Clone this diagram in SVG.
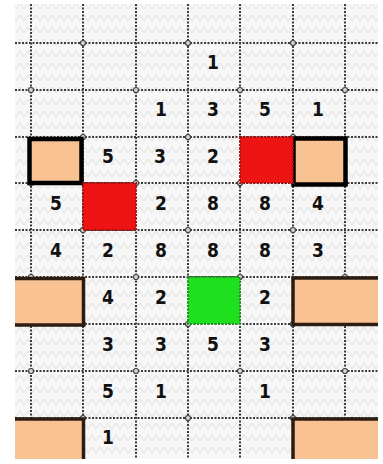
<svg xmlns="http://www.w3.org/2000/svg" width="383" height="464" viewBox="0 0 383 464">
<defs>
<pattern id="tex" width="16" height="12" patternUnits="userSpaceOnUse">
<rect width="16" height="12" fill="#f7f7f7"/>
<path d="M0 9 L4 3 L8 9 L12 3 L16 9" fill="none" stroke="#e2e2e2" stroke-width="1"/>
</pattern>
<clipPath id="area"><rect x="15" y="4" width="363" height="455"/></clipPath>
</defs>
<style>
.g{stroke:#3c3c3c;stroke-width:2;stroke-dasharray:2 1.5;fill:none}
.ring{fill:#d8d8d8;stroke:#444;stroke-width:1.2}
.box{fill:#f8c293}
.bt{fill:none;stroke:#000;stroke-width:4.5}
.bb{fill:none;stroke:#2b1d12;stroke-width:3.5}
.red{fill:#ee1414}
.redb{fill:none;stroke:#a01010;stroke-width:2;stroke-dasharray:2 1.5}
.grn{fill:#1fe01f}
.grnb{fill:none;stroke:#2a8a2a;stroke-width:2;stroke-dasharray:2 1.5}
text{font-family:"Liberation Sans Narrow","DejaVu Sans Condensed","DejaVu Sans",sans-serif;font-stretch:condensed;font-weight:bold;font-size:19px;fill:#111;text-anchor:middle}
</style>
<rect width="383" height="464" fill="#fff"/>
<g clip-path="url(#area)">
<rect x="15" y="4" width="363" height="455" fill="url(#tex)"/>
<g id="grid">
<path class="g" d="M31 4V459M83 4V459M136 4V459M188 4V459M240 4V459M293 4V459M345 4V459"/>
<path class="g" d="M15 43H378M15 90H378M15 137H378M15 183H378M15 230H378M15 277H378M15 324H378M15 371H378M15 418H378"/>
<g>
<circle class="ring" cx="83" cy="43" r="2.5"/><circle class="ring" cx="188" cy="43" r="2.5"/><circle class="ring" cx="293" cy="43" r="2.5"/>
<circle class="ring" cx="31" cy="90" r="2.5"/><circle class="ring" cx="136" cy="90" r="2.5"/><circle class="ring" cx="240" cy="90" r="2.5"/><circle class="ring" cx="345" cy="90" r="2.5"/>
<circle class="ring" cx="83" cy="137" r="2.5"/><circle class="ring" cx="188" cy="137" r="2.5"/><circle class="ring" cx="293" cy="137" r="2.5"/>
<circle class="ring" cx="31" cy="183" r="2.5"/><circle class="ring" cx="136" cy="183" r="2.5"/><circle class="ring" cx="240" cy="183" r="2.5"/><circle class="ring" cx="345" cy="183" r="2.5"/>
<circle class="ring" cx="83" cy="230" r="2.5"/><circle class="ring" cx="188" cy="230" r="2.5"/><circle class="ring" cx="293" cy="230" r="2.5"/>
<circle class="ring" cx="31" cy="277" r="2.5"/><circle class="ring" cx="136" cy="277" r="2.5"/><circle class="ring" cx="240" cy="277" r="2.5"/><circle class="ring" cx="345" cy="277" r="2.5"/>
<circle class="ring" cx="83" cy="324" r="2.5"/><circle class="ring" cx="188" cy="324" r="2.5"/><circle class="ring" cx="293" cy="324" r="2.5"/>
<circle class="ring" cx="31" cy="371" r="2.5"/><circle class="ring" cx="136" cy="371" r="2.5"/><circle class="ring" cx="240" cy="371" r="2.5"/><circle class="ring" cx="345" cy="371" r="2.5"/>
<circle class="ring" cx="83" cy="418" r="2.5"/><circle class="ring" cx="188" cy="418" r="2.5"/><circle class="ring" cx="293" cy="418" r="2.5"/>
</g>
</g>
<g id="box-tl"><rect class="box" x="29.5" y="139" width="52" height="44"/><rect class="bt" x="29.5" y="139" width="52" height="44"/></g>
<g id="box-tr"><rect class="box" x="293.5" y="138.5" width="52" height="46"/><rect class="bt" x="293.5" y="138.5" width="52" height="46"/></g>
<g id="box-ml"><rect class="box" x="10" y="278.5" width="73.5" height="46.5"/><path class="bb" d="M10 278.5H83.5V325H10"/></g>
<g id="box-mr"><rect class="box" x="293" y="278" width="95" height="46.5"/><path class="bb" d="M388 278H293V324.5H388"/></g>
<g id="box-bl"><rect class="box" x="10" y="419" width="73.5" height="50"/><path class="bb" d="M10 419H83.5V469"/></g>
<g id="box-br"><rect class="box" x="293" y="419" width="95" height="50"/><path class="bb" d="M388 419H293V469"/></g>
<g id="red-1"><rect class="red" x="240" y="137" width="53" height="46"/><rect class="redb" x="240" y="137" width="53" height="46"/></g>
<g id="red-2"><rect class="red" x="83" y="183" width="53" height="47"/><rect class="redb" x="83" y="183" width="53" height="47"/></g>
<g id="green"><rect class="grn" x="188" y="277" width="52" height="47"/><rect class="grnb" x="188" y="277" width="52" height="47"/></g>
</g>
<g id="numbers">
<text x="213" y="69">1</text>
<text x="161" y="116">1</text><text x="213" y="116">3</text><text x="265" y="116">5</text><text x="318" y="116">1</text>
<text x="108" y="163">5</text><text x="160" y="163">3</text><text x="213" y="163">2</text>
<text x="56" y="209.5">5</text><text x="161" y="209.5">2</text><text x="213" y="209.5">8</text><text x="265" y="209.5">8</text><text x="318" y="209.5">4</text>
<text x="56" y="256.5">4</text><text x="108" y="256.5">2</text><text x="161" y="256.5">8</text><text x="213" y="256.5">8</text><text x="265" y="256.5">8</text><text x="318" y="256.5">3</text>
<text x="108" y="303.5">4</text><text x="161" y="303.5">2</text><text x="265" y="303.5">2</text>
<text x="108" y="350.5">3</text><text x="161" y="350.5">3</text><text x="213" y="350.5">5</text><text x="265" y="350.5">3</text>
<text x="108" y="397.5">5</text><text x="161" y="397.5">1</text><text x="265" y="397.5">1</text>
<text x="108" y="444">1</text>
</g>
</svg>
